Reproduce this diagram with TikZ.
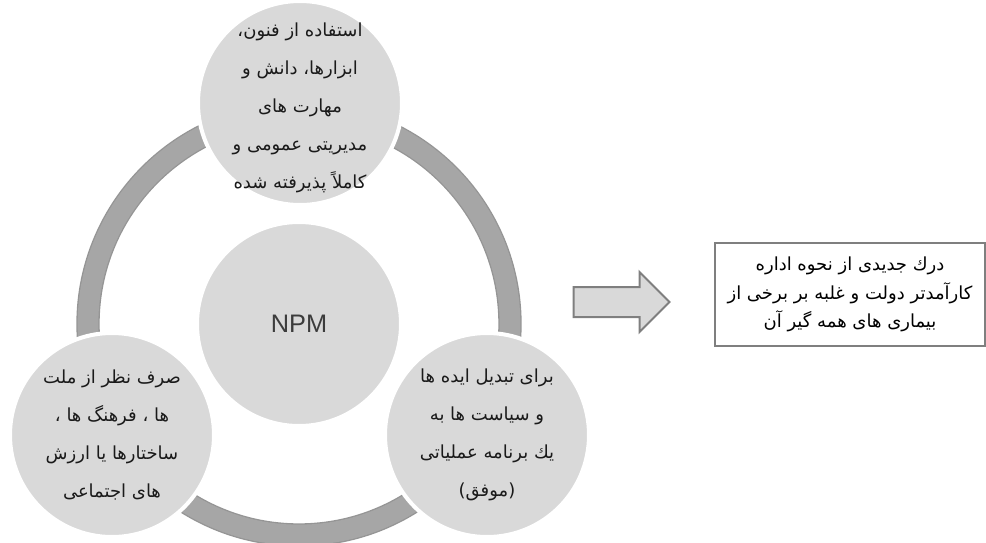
\documentclass[tikz,border=0pt]{standalone}
\usepackage{fontspec}
\setmainfont{Liberation Serif}
\newfontfamily\arabicfont[Script=Arabic]{DejaVu Sans}
\newfontfamily\npmfont{Liberation Sans}
\TeXXeTstate=1
\usetikzlibrary{shapes.arrows}

\definecolor{ringgray}{HTML}{A6A6A6}
\definecolor{ringedge}{HTML}{959595}
\definecolor{discgray}{HTML}{D9D9D9}
\definecolor{framegray}{HTML}{7F7F7F}
\definecolor{inkgray}{HTML}{1A1A1A}

\tikzset{
  disc/.style={circle, fill=discgray, draw=white, line width=3pt,
               minimum size=153pt, inner sep=0pt},
  disctext/.style={align=center, text=inkgray,
                   font=\arabicfont\fontsize{13.5}{28.5}\selectfont},
  bigarrow/.style={single arrow, fill=discgray, draw=framegray, line width=1.5pt,
                   minimum height=72pt, inner xsep=0pt, inner ysep=10.5pt,
                   single arrow head extend=11.25pt},
  resultbox/.style={draw=framegray, line width=1.5pt, fill=white, align=center,
                    minimum width=202.5pt, minimum height=77pt, text=black,
                    font=\arabicfont\fontsize{13.5}{21.4}\selectfont},
}

\begin{document}
\begin{tikzpicture}[x=0.75pt, y=-0.75pt]
  \useasboundingbox (0,0) rectangle (986,543);

  % centre of the cycle
  \coordinate (o) at (299,324);

  % ring behind the discs
  \draw [ringedge, line width=17.5pt] (o) circle [radius=158.25pt];
  \draw [ringgray, line width=15.5pt] (o) circle [radius=158.25pt];

  % discs
  \node [disc] (top)   at (300,103) {};
  \node [disc] (left)  at (112,435) {};
  \node [disc] (right) at (487,435) {};
  \node [disc] (npm)   at (o) {};

  \node [text=inkgray!85, font=\npmfont\fontsize{19}{22}\selectfont] (npmtext) at (npm) {NPM};

  \node [disctext] (toptext) at (300,108)
    {\beginR استفاده از فنون،\endR\\
     \beginR ابزارها، دانش و\endR\\
     \beginR مهارت های\endR\\
     \beginR مدیریتی عمومی و\endR\\
     \beginR کاملاً پذیرفته شده\endR};
  \node [disctext] (lefttext) at (left)
    {\beginR صرف نظر از ملت\endR\\
     \beginR ها ، فرهنگ ها ،\endR\\
     \beginR ساختارها یا ارزش\endR\\
     \beginR های اجتماعی\endR};
  \node [disctext] (righttext) at (right)
    {\beginR برای تبدیل ایده ها\endR\\
     \beginR و سیاست ها به\endR\\
     \beginR یك برنامه عملیاتی\endR\\
     \beginR (موفق)\endR};

  % outcome
  \node [bigarrow] (arr) at (614,302) {};
  \node [resultbox] (res) at (850,294.5)
    {\beginR درك جدیدی از نحوه اداره\endR\\
     \beginR کارآمدتر دولت و غلبه بر برخی از\endR\\
     \beginR بیماری های همه گیر آن\endR};
\end{tikzpicture}
\end{document}
